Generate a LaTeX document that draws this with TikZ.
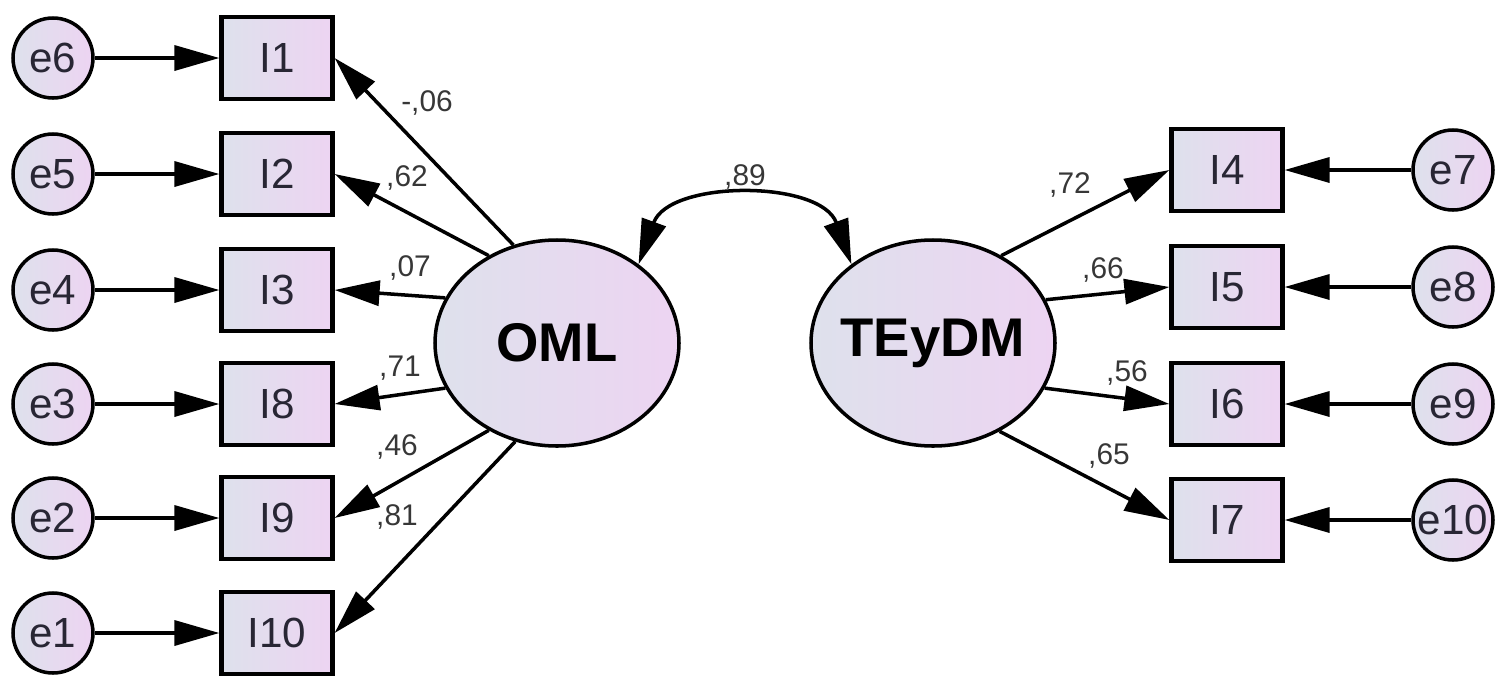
\documentclass[tikz,border=0pt]{standalone}
\usepackage{fontspec}
\setmainfont{Liberation Sans}
\usepackage{xcolor}
\usepackage{tikz}
\usetikzlibrary{shapes, arrows.meta, positioning, calc}

\definecolor{fillA}{RGB}{222,225,236}
\definecolor{fillB}{RGB}{237,212,242}
\definecolor{inktext}{RGB}{40,38,52}
\definecolor{labtext}{RGB}{55,55,55}

\tikzset{
    errnode/.style={circle, draw, line width=1pt, minimum size=0.80cm, inner sep=0pt,
        left color=fillA, right color=fillB, text=inktext, font=\fontsize{12}{14}\selectfont},
    itembox/.style={rectangle, draw, line width=1.2pt, minimum width=1.11cm, minimum height=0.82cm,
        inner sep=0pt, left color=fillA, right color=fillB, text=inktext, font=\fontsize{12}{14}\selectfont},
    factor/.style={ellipse, draw, line width=1pt, minimum width=2.44cm, minimum height=2.06cm,
        inner sep=0pt, inner xsep=-0.3cm, left color=fillA, right color=fillB,
        font=\fontsize{15.5}{18}\selectfont\bfseries},
    coef/.style={text=labtext, font=\fontsize{8.5}{10}\selectfont, inner sep=0pt},
    path/.style={-{Triangle[length=4.5mm, width=2.5mm]}, line width=1pt}
}

\begin{document}
\begin{tikzpicture}
                \useasboundingbox (0,0) rectangle (15.12,-6.78);

                % left block
                \node[errnode] (e6) at (0.53,-0.58) {e6};
                \node[errnode] (e5) at (0.53,-1.74) {e5};
                \node[errnode] (e4) at (0.53,-2.90) {e4};
                \node[errnode] (e3) at (0.53,-4.04) {e3};
                \node[errnode] (e2) at (0.53,-5.18) {e2};
                \node[errnode] (e1) at (0.53,-6.33) {e1};

                \node[itembox] (I1) at (2.77,-0.58) {I1};
                \node[itembox] (I2) at (2.77,-1.74) {I2};
                \node[itembox] (I3) at (2.77,-2.90) {I3};
                \node[itembox] (I8) at (2.77,-4.04) {I8};
                \node[itembox] (I9) at (2.77,-5.18) {I9};
                \node[itembox] (I10) at (2.77,-6.33) {I10};

                \node[factor] (OML) at (5.57,-3.43) {OML};
                \node[factor] (TEyDM) at (9.33,-3.43) {TEyDM};

                % right block
                \node[itembox] (I4) at (12.27,-1.70) {I4};
                \node[itembox] (I5) at (12.27,-2.87) {I5};
                \node[itembox] (I6) at (12.27,-4.04) {I6};
                \node[itembox] (I7) at (12.27,-5.20) {I7};

                \node[errnode] (e7) at (14.53,-1.70) {e7};
                \node[errnode] (e8) at (14.53,-2.87) {e8};
                \node[errnode] (e9) at (14.53,-4.04) {e9};
                \node[errnode] (e10) at (14.53,-5.20) {e10};

                \draw[path] (e6) to (I1);
                \draw[path] (e5) to (I2);
                \draw[path] (e4) to (I3);
                \draw[path] (e3) to (I8);
                \draw[path] (e2) to (I9);
                \draw[path] (e1) to (I10);

                \draw[path] (e7) to (I4);
                \draw[path] (e8) to (I5);
                \draw[path] (e9) to (I6);
                \draw[path] (e10) to (I7);

                \draw[path] (OML.114) to (I1.east);
                \draw[path] (OML.128) to (I2.east);
                \draw[path] (OML.158) to (I3.east);
                \draw[path] (OML.202) to (I8.east);
                \draw[path] (OML.232) to (I9.east);
                \draw[path] (OML.247) to (I10.east);

                \draw[path] (TEyDM.52) to (I4.west);
                \draw[path] (TEyDM.21) to (I5.west);
                \draw[path] (TEyDM.-22) to (I6.west);
                \draw[path] (TEyDM.-53) to (I7.west);

                \draw[{Triangle[length=4.5mm, width=2.5mm]}-{Triangle[length=4.5mm, width=2.5mm]}, line width=1pt]
                    (OML.44) .. controls +(70:0.9) and +(110:0.9) .. (TEyDM.136);

                \node[coef] (c1) at (4.27,-1.03) {-,06};
                \node[coef] (c2) at (4.07,-1.78) {,62};
                \node[coef] (c3) at (4.10,-2.68) {,07};
                \node[coef] (c8) at (4.00,-3.68) {,71};
                \node[coef] (c9) at (3.97,-4.47) {,46};
                \node[coef] (c10) at (3.97,-5.17) {,81};
                \node[coef] (cov) at (7.45,-1.77) {,89};
                \node[coef] (c4) at (10.70,-1.85) {,72};
                \node[coef] (c5) at (11.03,-2.70) {,66};
                \node[coef] (c6) at (11.27,-3.73) {,56};
                \node[coef] (c7) at (11.09,-4.56) {,65};
            \end{tikzpicture}
\end{document}
